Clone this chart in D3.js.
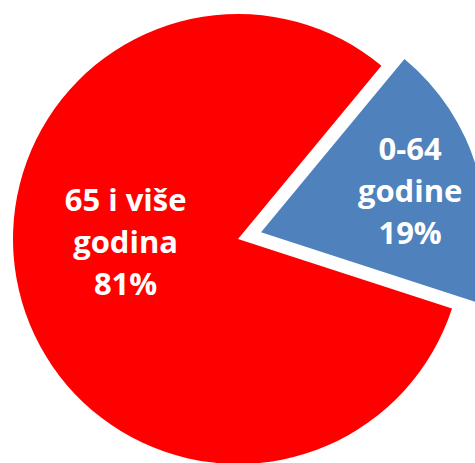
<!DOCTYPE html>
<html>
<head>
<meta charset="utf-8">
<script src="https://cdn.jsdelivr.net/npm/d3@7"></script>
<style>
  html, body { margin: 0; padding: 0; background: #fff; overflow: hidden; }
</style>
</head>
<body>
<div id="chart"></div>
<script>
const categories = ['0-64 godine', '65 i više godina'];
const values = [19, 81];
const labelLines = [['0-64', 'godine', '19%'], ['65 i više', 'godina', '81%']];
const colors = ['#4F81BD', '#FF0000'];

const width = 475, height = 463;
const cx = 238, cy = 239, radius = 225;
const startDeg = 39.6;   // first slice starts here (clockwise from north)
const explode = 24;      // blue slice pulled out

const svg = d3.select('#chart').append('svg')
  .attr('width', width)
  .attr('height', height);

const pie = d3.pie().sort(null)
  .startAngle(startDeg * Math.PI / 180)
  .endAngle(startDeg * Math.PI / 180 + 2 * Math.PI);
const arcs = pie(values);
const arc = d3.arc().innerRadius(0).outerRadius(radius);

const g = svg.append('g').attr('transform', `translate(${cx},${cy})`);

// label placement: fraction of radius, angle shift (deg), extra y per slice
const labelPos = [{ r: 0.69, shift: 0, dy: 13 }, { r: 0.5, shift: 14, dy: 10 }];

arcs.forEach((a, i) => {
  const mid = (a.startAngle + a.endAngle) / 2;
  const off = i === 0 ? explode : 0;
  const dx = Math.sin(mid) * off, dy = -Math.cos(mid) * off;
  const sg = g.append('g').attr('transform', `translate(${dx},${dy})`);
  sg.append('path').attr('d', arc(a)).attr('fill', colors[i]);

  const la = mid + labelPos[i].shift * Math.PI / 180;
  const lx = Math.sin(la) * radius * labelPos[i].r;
  const ly = -Math.cos(la) * radius * labelPos[i].r;
  const lineH = 42;
  const lines = labelLines[i];
  const t = sg.append('text')
    .attr('text-anchor', 'middle')
    .attr('fill', '#fff')
    .attr('font-family', '"Open Sans", sans-serif')
    .attr('font-weight', 'bold')
    .attr('font-size', 31);
  lines.forEach((s, k) => {
    t.append('tspan')
      .attr('x', lx)
      .attr('y', ly + (k - (lines.length - 1) / 2) * lineH + labelPos[i].dy)
      .text(s);
  });
});
</script>
</body>
</html>
